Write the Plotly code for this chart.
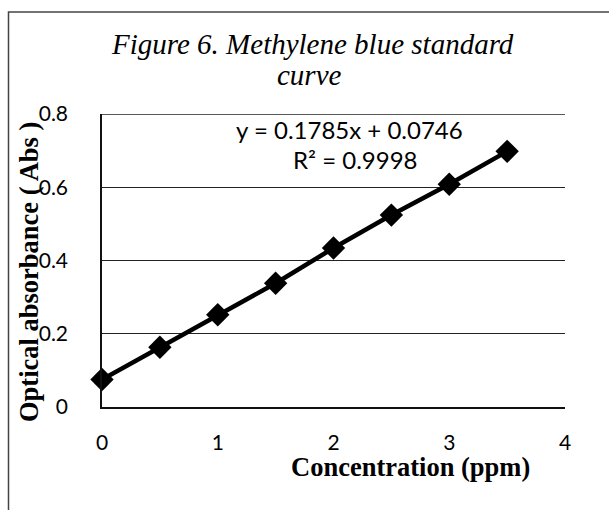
import plotly.graph_objects as go

# Data
concentration = [0, 0.5, 1.0, 1.5, 2.0, 2.5, 3.0, 3.5]
absorbance = [0.075, 0.163, 0.252, 0.338, 0.434, 0.524, 0.608, 0.698]
x_ticks = [0, 1, 2, 3, 4]
y_ticks = [0, 0.2, 0.4, 0.6, 0.8]
y_tick_labels = ["0", "0.2", "0.4", "0.6", "0.8"]
title_lines = ["Figure 6. Methylene blue standard", "curve"]
equation_text = "y = 0.1785x + 0.0746"
r2_text = "R² = 0.9998"
x_title = "Concentration (ppm)"
y_title = "Optical absorbance ( Abs )"

W, H = 609, 510
L, R, T, B = 102, 44, 114, 103
pw = W - L - R
ph = H - T - B

def px_x(p):
    return (p - L) / pw

def px_y(p):
    return (H - B - p) / ph

fig = go.Figure()
fig.add_trace(go.Scatter(
    x=concentration, y=absorbance, mode="lines+markers",
    line=dict(color="black", width=4.5),
    marker=dict(symbol="diamond", size=18, color="black"),
    showlegend=False, hoverinfo="skip", cliponaxis=False,
))

tick_font = dict(family="Lato, Open Sans, sans-serif", size=21, color="black")

fig.update_layout(
    width=W, height=H,
    margin=dict(l=L, r=R, t=T, b=B, pad=0),
    paper_bgcolor="white", plot_bgcolor="white",
    xaxis=dict(
        range=[0, 4], tickvals=x_ticks, ticktext=[str(v) for v in x_ticks],
        showgrid=False, zeroline=False, showline=True, linecolor="#111",
        linewidth=1.5, ticks="", ticklabelstandoff=16, tickfont=tick_font,
    ),
    yaxis=dict(
        range=[0, 0.8], tickvals=y_ticks, ticktext=y_tick_labels,
        showgrid=True, gridcolor="#222", gridwidth=1.4, zeroline=False,
        showline=True, linecolor="#111", linewidth=1.5, ticks="",
        ticklabelstandoff=28, tickfont=tick_font,
    ),
    showlegend=False,
)

# Chart title (two lines, Excel-style tight spacing)
title_font = dict(family="Liberation Serif, Times New Roman, serif", size=29,
                  color="black", style="italic")
for text, cx, cy in zip(title_lines, [312, 309], [44, 75]):
    fig.add_annotation(text=text, xref="paper", yref="paper",
                       x=px_x(cx), y=px_y(cy), showarrow=False,
                       xanchor="center", yanchor="middle", font=title_font)

# Top gridline at the axis maximum (0.8)
fig.add_shape(type="line", xref="paper", yref="y", x0=0, x1=1,
              y0=y_ticks[-1], y1=y_ticks[-1], line=dict(color="#222", width=1.4),
              layer="below")

# Equation annotations
ann_font = dict(family="Lato, Open Sans, sans-serif", size=24, color="black")
fig.add_annotation(text=equation_text, xref="paper", yref="paper",
                   x=px_x(349), y=px_y(129), showarrow=False,
                   xanchor="center", yanchor="middle", font=ann_font)
fig.add_annotation(text=r2_text, xref="paper", yref="paper",
                   x=px_x(355), y=px_y(159), showarrow=False,
                   xanchor="center", yanchor="middle", font=ann_font)

# Axis titles
axis_title_font = dict(family="Liberation Serif, Times New Roman, serif", size=26.5,
                       color="black", weight="bold")
fig.add_annotation(text=x_title, xref="paper", yref="paper",
                   x=px_x(410), y=px_y(467), showarrow=False,
                   xanchor="center", yanchor="middle", font=axis_title_font)
fig.add_annotation(text=y_title, xref="paper", yref="paper",
                   x=px_x(29), y=px_y(272), showarrow=False, textangle=-90,
                   xanchor="center", yanchor="middle", font=axis_title_font)

# Outer chart border (left and top edges visible)
fig.add_shape(type="path", xref="paper", yref="paper",
              path=f"M {px_x(8.5)} {px_y(515)} L {px_x(8.5)} {px_y(12)} L {px_x(615)} {px_y(12)}",
              line=dict(color="#444", width=1.5))

fig.write_html("out.html")
